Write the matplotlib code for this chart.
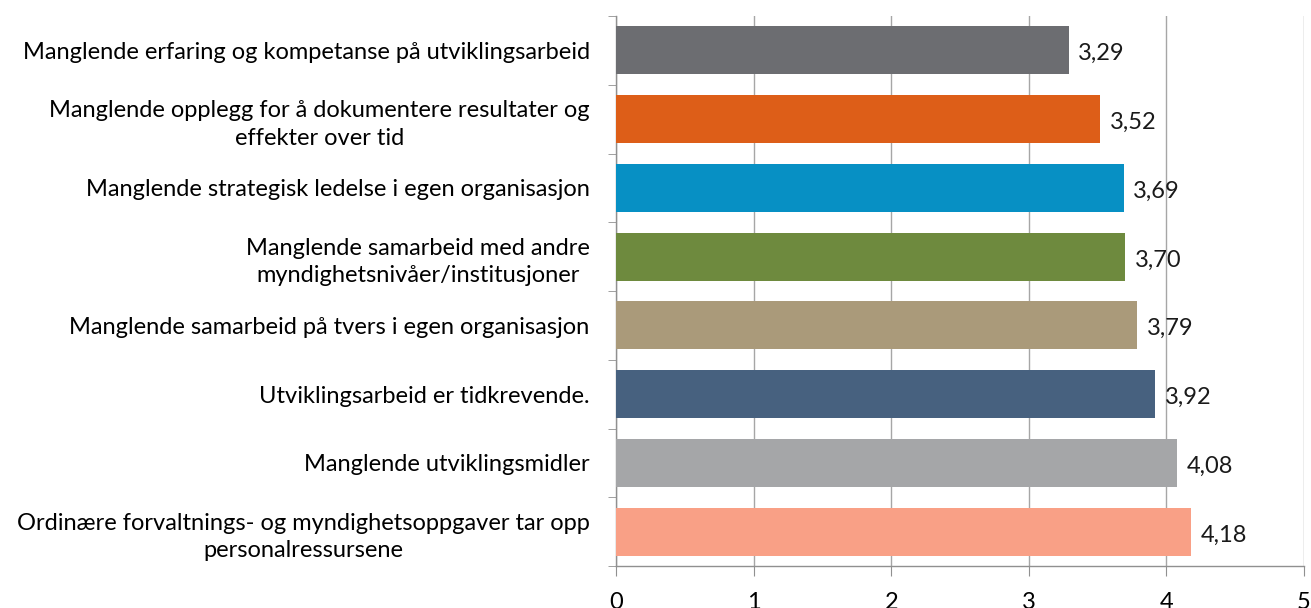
import matplotlib
matplotlib.use("Agg")
import matplotlib.pyplot as plt
import numpy as np

categories = [
    "Manglende erfaring og kompetanse på utviklingsarbeid",
    "Manglende opplegg for å dokumentere resultater og\neffekter over tid",
    "Manglende strategisk ledelse i egen organisasjon",
    "Manglende samarbeid med andre\nmyndighetsnivåer/institusjoner",
    "Manglende samarbeid på tvers i egen organisasjon",
    "Utviklingsarbeid er tidkrevende.",
    "Manglende utviklingsmidler",
    "Ordinære forvaltnings- og myndighetsoppgaver tar opp\npersonalressursene",
]
values = [3.29, 3.52, 3.69, 3.70, 3.79, 3.92, 4.08, 4.18]
colors = ["#6C6D71", "#DD5E18", "#0790C4", "#6E8A3E", "#AA9A7A", "#47617F", "#A5A6A8", "#F9A086"]
xticks = [0, 1, 2, 3, 4, 5]

plt.rcParams['font.family'] = ['Lato', 'DejaVu Sans']

fig = plt.figure(figsize=(13.11, 6.08), dpi=100)
ax = fig.add_axes([0.4699, 0.069, 0.5247, 0.9047])

y = np.arange(len(categories))
ax.barh(y, values, height=0.70, color=colors, zorder=3)
for yi, v in zip(y, values):
    ax.text(v + 0.07, yi + 0.05, f"{v:.2f}".replace(".", ","), va="center", ha="left",
            fontsize=17, color="#1a1a1a", zorder=4)

ax.set_ylim(len(categories) - 0.5, -0.5)
ax.set_xlim(0, 5)
ax.set_xticks(xticks)
ax.set_xticklabels([str(t) for t in xticks], fontsize=17)
ax.set_yticks(y)
ax.set_yticklabels(categories, fontsize=17, multialignment="center", linespacing=1.4)
ax.set_yticks(np.arange(len(categories) + 1) - 0.5, minor=True)
ax.tick_params(axis="y", which="major", length=0, pad=19)
ax.tick_params(axis="y", which="minor", length=6, color="#909090", direction="out")
ax.tick_params(axis="x", length=7, color="#909090", direction="out", pad=12)

ax.grid(axis="x", color="#A6A6A6", linewidth=1.0, zorder=0)
for s in ["top", "right"]:
    ax.spines[s].set_visible(False)
for s in ["left", "bottom"]:
    ax.spines[s].set_color("#909090")
    ax.spines[s].set_linewidth(1.0)

fig.savefig("out.png", dpi=100)
